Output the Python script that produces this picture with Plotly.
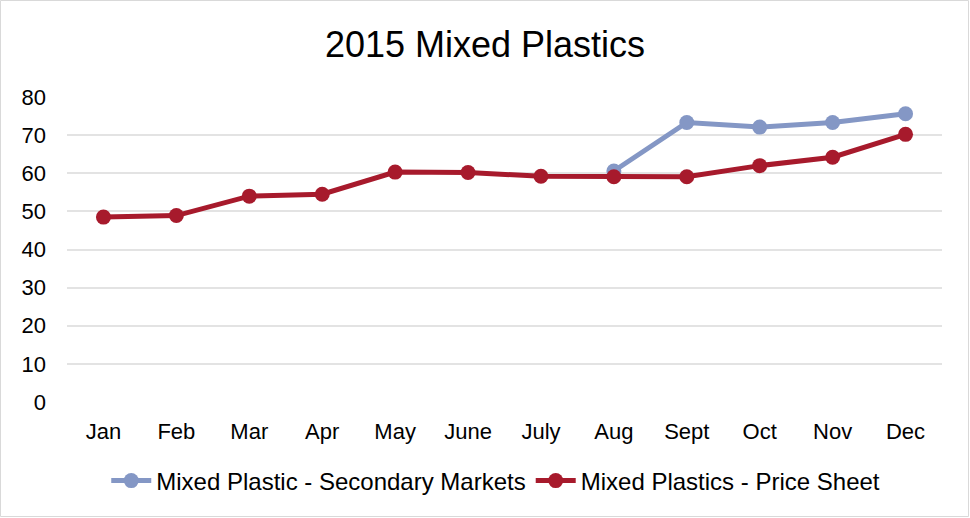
import plotly.graph_objects as go

months = ["Jan", "Feb", "Mar", "Apr", "May", "June", "July", "Aug", "Sept", "Oct", "Nov", "Dec"]
secondary = [None, None, None, None, None, None, None, 60.6, 73.3, 72.1, 73.3, 75.6]
price_sheet = [48.5, 48.9, 54.0, 54.5, 60.3, 60.2, 59.2, 59.1, 59.1, 62.0, 64.2, 70.2]
y_ticks = [0, 10, 20, 30, 40, 50, 60, 70, 80]

BLUE = "#8497C5"
RED = "#A71A2C"
FONT = "Liberation Sans, Arial, sans-serif"

fig = go.Figure()
fig.add_trace(go.Scatter(x=months, y=secondary, mode="lines+markers",
                         name="Mixed Plastic - Secondary Markets",
                         line=dict(color=BLUE, width=5),
                         marker=dict(color=BLUE, size=15)))
fig.add_trace(go.Scatter(x=months, y=price_sheet, mode="lines+markers",
                         name="Mixed Plastics - Price Sheet",
                         line=dict(color=RED, width=5),
                         marker=dict(color=RED, size=15)))

W, H = 970, 518
ml, mr, mt, mb = 67, 28, 97, 116
pw, ph = W - ml - mr, H - mt - mb

fig.update_layout(
    width=W, height=H,
    margin=dict(l=ml, r=mr, t=mt, b=mb),
    paper_bgcolor="white", plot_bgcolor="white",
    font=dict(family=FONT, size=22, color="#000000"),
    title=dict(text="2015 Mixed Plastics", x=0.5, xanchor="center",
               y=1 - 44 / H, yanchor="middle", font=dict(size=36, family=FONT)),
    showlegend=True,
    legend=dict(orientation="h", x=0.49, xanchor="center",
                y=(402 - 481) / ph, yanchor="middle",
                font=dict(size=24, family=FONT), itemwidth=40,
                bgcolor="rgba(0,0,0,0)"),
    xaxis=dict(range=[-0.5, 11.5], showgrid=False, zeroline=False,
               showline=False, ticks="", ticklabelstandoff=14,
               tickfont=dict(size=22)),
    yaxis=dict(range=[0, 80], tickvals=y_ticks, showgrid=True,
               gridcolor="#E3E3E3", gridwidth=1.5, zeroline=False,
               showline=False, ticks="", ticklabelstandoff=20,
               tickfont=dict(size=22)),
    shapes=[dict(type="rect", xref="paper", yref="paper",
                 x0=-ml / pw + 0.5 / pw, x1=1 + (mr - 1.5) / pw,
                 y0=-(mb - 1.5) / ph, y1=1 + (mt - 0.5) / ph,
                 line=dict(color="#D9D9D9", width=1))],
)

fig.write_html("out.html")
